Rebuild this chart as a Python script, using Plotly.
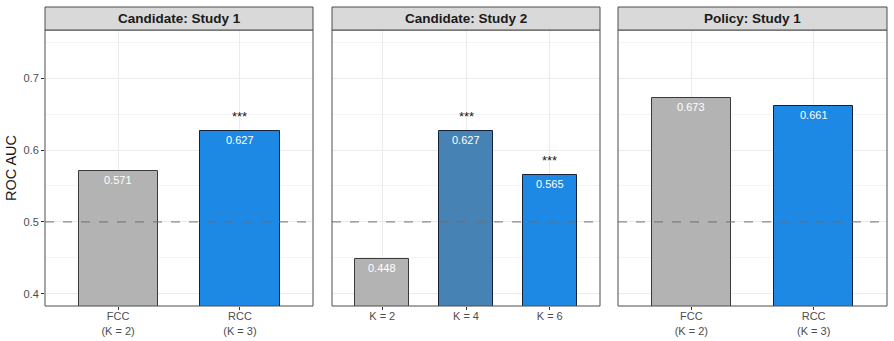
import plotly.graph_objects as go

panels = ["Candidate: Study 1", "Candidate: Study 2", "Policy: Study 1"]
cats = [["FCC<br>(K = 2)", "RCC<br>(K = 3)"],
        ["K = 2", "K = 4", "K = 6"],
        ["FCC<br>(K = 2)", "RCC<br>(K = 3)"]]
values = [[0.571, 0.627], [0.448, 0.627, 0.565], [0.673, 0.661]]
labels = [["0.571", "0.627"], ["0.448", "0.627", "0.565"], ["0.673", "0.661"]]
sig = [["", "***"], ["", "***", "***"], ["", ""]]
fills = [["#b3b3b3", "#1e88e5"], ["#b3b3b3", "#4682b4", "#1e88e5"], ["#b3b3b3", "#1e88e5"]]
outlines = [["#3a3a3a", "#14233a"], ["#3a3a3a", "#14233a", "#14233a"], ["#3a3a3a", "#14233a"]]
yticks = [0.4, 0.5, 0.6, 0.7]
baseline = 0.5
yrange = [0.383, 0.767]

W, H = 894, 341
xpix = [(45, 313), (332, 600), (618, 887)]
ytop, ybot = 30, 306
strip_top = 7

fig = go.Figure()
for i in range(3):
    ax = "" if i == 0 else str(i + 1)
    fig.add_trace(go.Bar(
        x=cats[i], y=values[i], base=0, width=0.65,
        marker=dict(color=fills[i], line=dict(color=outlines[i], width=1)),
        xaxis="x" + ax, yaxis="y" + ax, showlegend=False, hoverinfo="skip"))
    n = len(cats[i])
    x0, x1 = xpix[i]
    fig.layout["xaxis" + ax] = dict(
        domain=[x0 / W, x1 / W], anchor="y" + ax, type="category",
        range=[-0.6, n - 0.4], showgrid=True, gridcolor="#ebebeb", gridwidth=1,
        ticks="outside", ticklen=3, tickcolor="#333333", ticklabelstandoff=-3,
        tickfont=dict(size=11, color="#4d4d4d"), showline=False, zeroline=False,
        fixedrange=True)
    fig.layout["yaxis" + ax] = dict(
        domain=[1 - ybot / H, 1 - ytop / H], anchor="x" + ax, range=yrange,
        tickvals=yticks, showticklabels=(i == 0),
        ticks="outside" if i == 0 else "", ticklen=3, tickcolor="#333333",
        tickfont=dict(size=11, color="#4d4d4d"),
        showgrid=True, gridcolor="#ebebeb", gridwidth=1,
        minor=dict(dtick=0.05, tick0=0.0, showgrid=True, gridcolor="#f3f3f3", gridwidth=0.6),
        zeroline=False, showline=False, fixedrange=True)
    # panel border
    fig.add_shape(type="rect", xref="paper", yref="paper",
                  x0=x0 / W, x1=x1 / W, y0=1 - ybot / H, y1=1 - ytop / H,
                  line=dict(color="#4d4d4d", width=1), fillcolor="rgba(0,0,0,0)", layer="above")
    # strip
    fig.add_shape(type="rect", xref="paper", yref="paper",
                  x0=x0 / W, x1=x1 / W, y0=1 - ytop / H, y1=1 - strip_top / H,
                  line=dict(color="#4d4d4d", width=1), fillcolor="#d9d9d9", layer="above")
    fig.add_annotation(xref="paper", yref="paper", x=(x0 + x1) / 2 / W,
                       y=1 - (ytop + strip_top) / 2 / H, text="<b>" + panels[i] + "</b>",
                       showarrow=False, font=dict(size=13.5, color="#1a1a1a"),
                       xanchor="center", yanchor="middle")
    # baseline
    fig.add_shape(type="line", xref="x" + ax + " domain", yref="y" + ax,
                  x0=0, x1=1, y0=baseline, y1=baseline,
                  line=dict(color="#707070", width=1, dash="dash"), layer="above")
    for c, v, lab, s in zip(cats[i], values[i], labels[i], sig[i]):
        fig.add_annotation(x=c, y=v, xref="x" + ax, yref="y" + ax, text=lab,
                           showarrow=False, yanchor="top", yshift=-1,
                           font=dict(size=11, color="white"))
        if s:
            fig.add_annotation(x=c, y=v, xref="x" + ax, yref="y" + ax, text=s,
                               showarrow=False, yanchor="bottom", yshift=5,
                               font=dict(size=13, color="#1a1a1a"))

fig.layout.yaxis.title = dict(text="ROC AUC", font=dict(size=14.5, color="#1a1a1a"), standoff=3)
fig.update_layout(
    width=W, height=H, margin=dict(l=0, r=0, t=0, b=0),
    paper_bgcolor="white", plot_bgcolor="white",
    font=dict(family="Liberation Sans, Arial, sans-serif"),
    bargap=0)
fig.write_html("out.html")
